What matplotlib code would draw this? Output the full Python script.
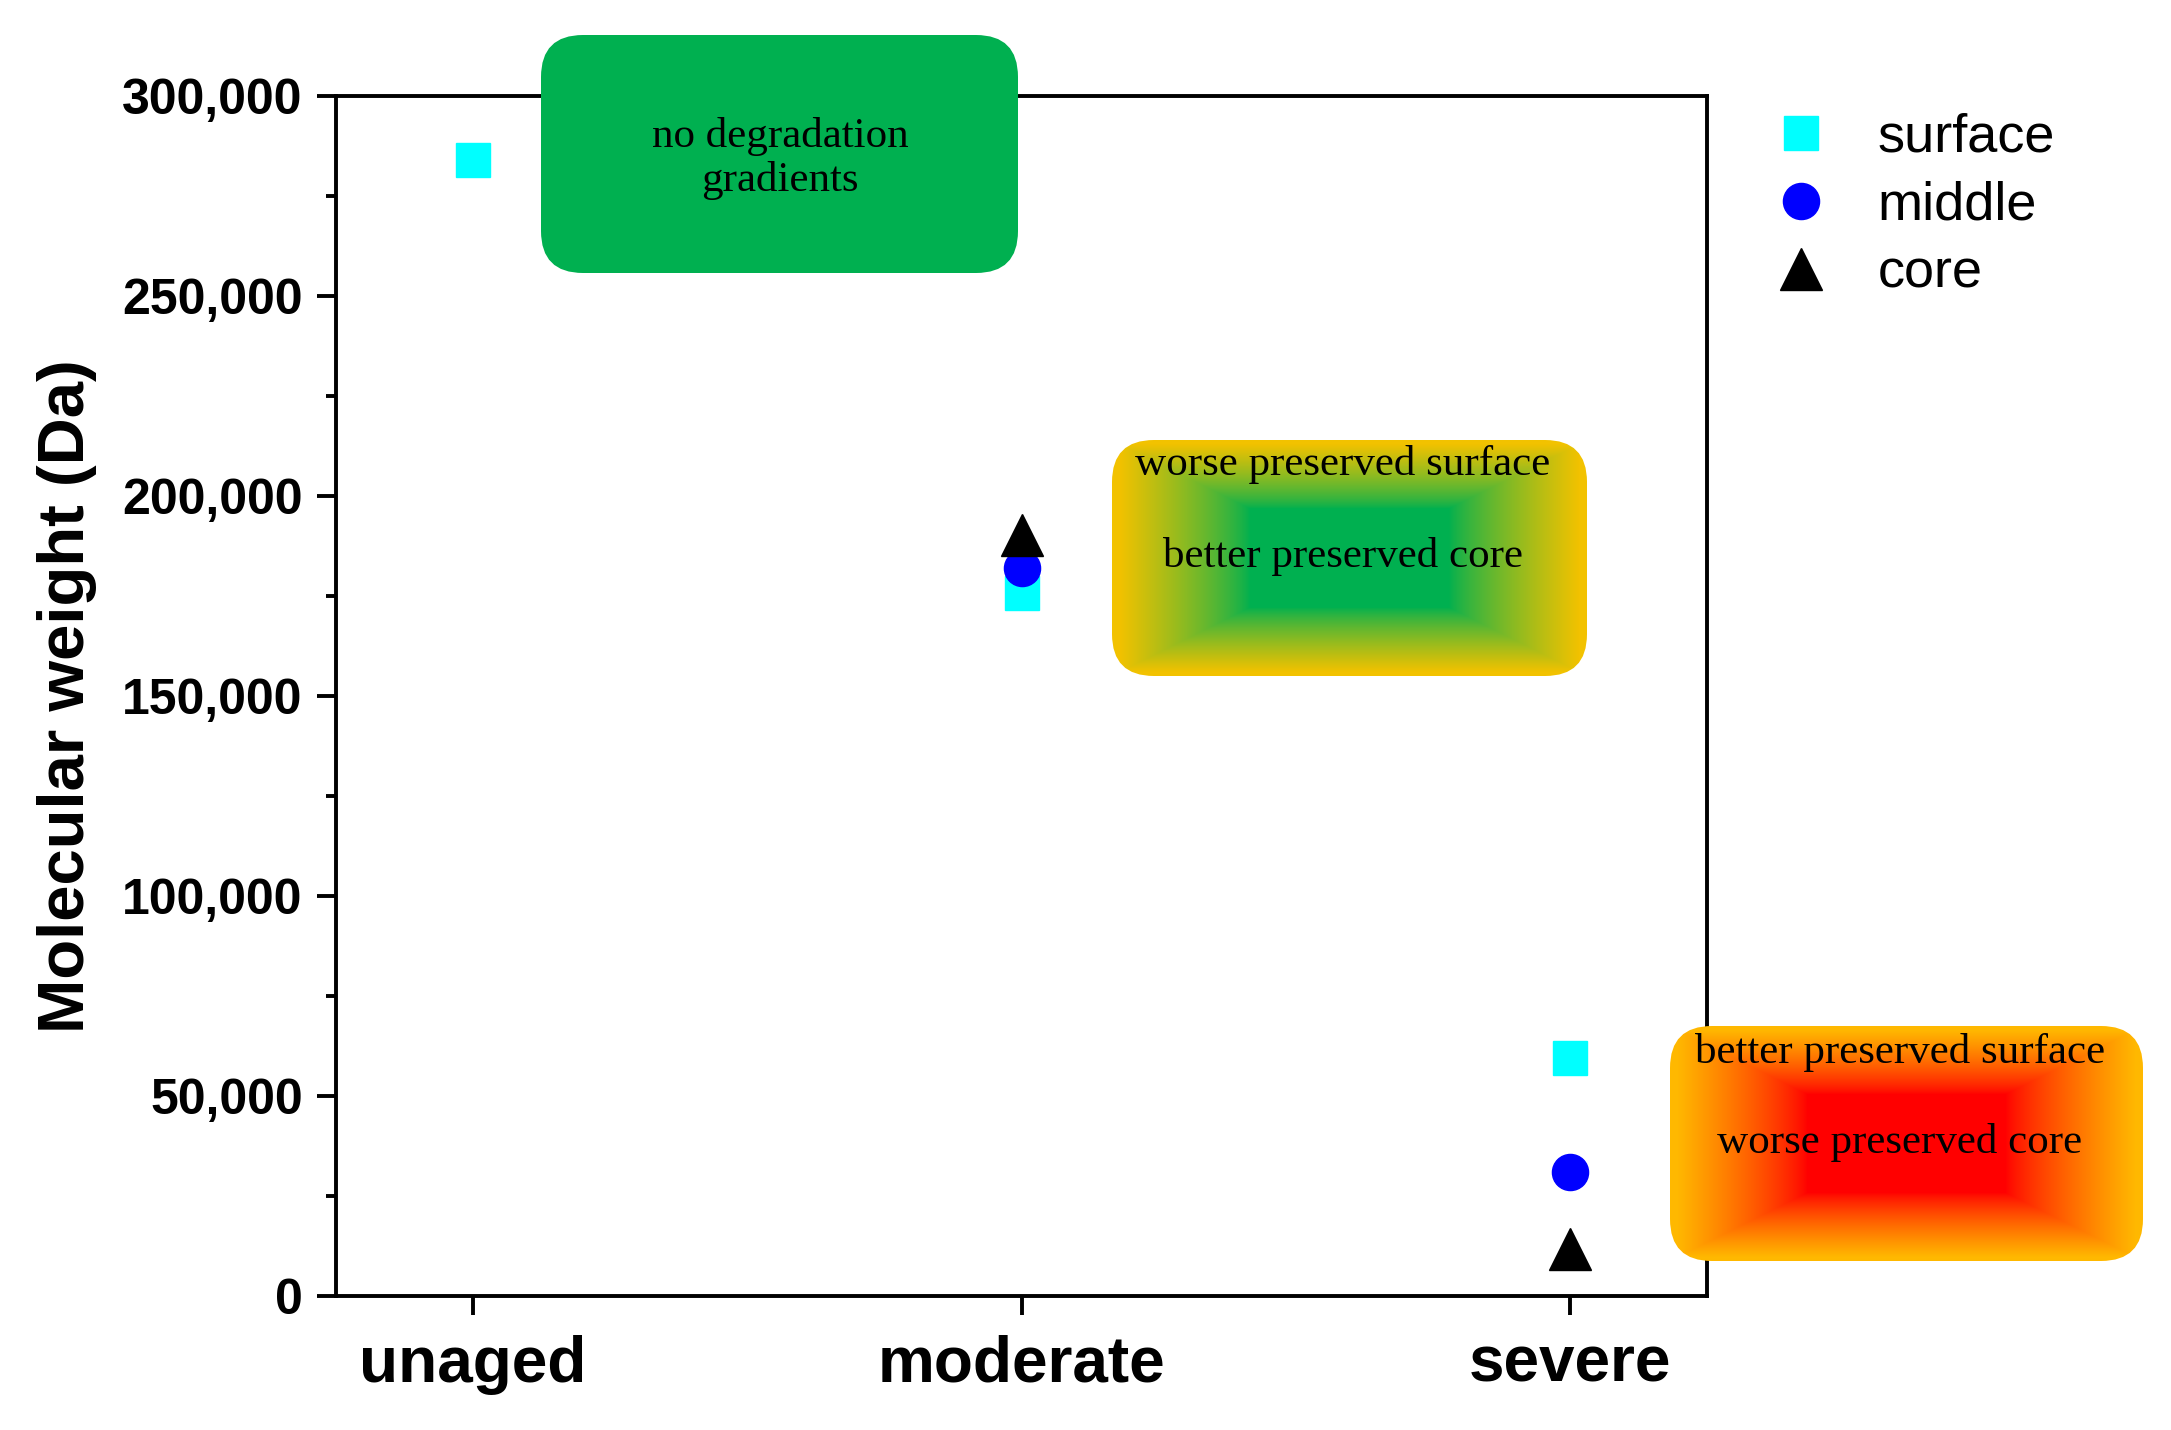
import numpy as np
import matplotlib
matplotlib.use("Agg")
import matplotlib.pyplot as plt
from matplotlib.patches import FancyBboxPatch
from matplotlib.ticker import MultipleLocator, StrMethodFormatter

# valores
categorias = ["unaged", "moderate", "severe"]
surface = [284000, 175800, 59500]
middle = [np.nan, 182000, 31100]
core = [np.nan, 190300, 11800]

plt.rcParams['font.family'] = ['Liberation Sans', 'DejaVu Sans']

fig = plt.figure(figsize=(21.71, 14.3), dpi=100)
ax = fig.add_axes([0.1548, 0.0937, 0.6315, 0.8395])

x = np.arange(len(categorias))
ax.plot(x, surface, linestyle='none', marker='s', markersize=24, color='#00ffff', label='surface')
ax.plot(x, middle, linestyle='none', marker='o', markersize=26, color='#0000ff', label='middle')
ax.plot(x, core, linestyle='none', marker='^', markersize=30, color='black', label='core')

ax.set_xlim(-0.25, 2.25)
ax.set_ylim(0, 300000)
ax.set_xticks(x)
ax.set_xticklabels(categorias, fontsize=46, fontweight='bold')
ax.yaxis.set_major_locator(MultipleLocator(50000))
ax.yaxis.set_minor_locator(MultipleLocator(25000))
ax.yaxis.set_major_formatter(StrMethodFormatter('{x:,.0f}'))
for lab in ax.get_yticklabels():
    lab.set_fontsize(36)
    lab.set_fontweight('bold')
ax.tick_params(axis='y', which='major', length=14, width=2.8, pad=10, direction='out')
ax.tick_params(axis='y', which='minor', length=7, width=2.8, direction='out')
ax.tick_params(axis='x', which='major', length=14, width=2.8, pad=14, direction='out')
for s in ax.spines.values():
    s.set_linewidth(2.8)
ax.set_ylabel('Molecular weight (Da)', fontsize=47, fontweight='bold', labelpad=18)

# legenda fora do gráfico
handles, labels = ax.get_legend_handles_labels()
fig.legend(handles, labels, loc='upper left', bbox_to_anchor=(0.8173, 0.921),
           frameon=False, fontsize=39, handlelength=1.0, handletextpad=0.9,
           labelspacing=0.33, borderpad=0, borderaxespad=0, numpoints=1)

# camada de anotações em pixels
ov = fig.add_axes([0, 0, 1, 1])
ov.set_axis_off()


def caixa_gradiente(x0, y0, w, h, c_in, c_out, r=42):
    nx, ny = int(w), int(h)
    u = np.abs(np.linspace(-1, 1, nx))
    v = np.abs(np.linspace(-1, 1, ny))
    t = np.maximum(u[None, :], v[:, None])
    t = np.clip((t - 0.42) / 0.55, 0, 1) ** 0.8
    c_in = np.array(matplotlib.colors.to_rgb(c_in))
    c_out = np.array(matplotlib.colors.to_rgb(c_out))
    img = (1 - t)[..., None] * c_in + t[..., None] * c_out
    patch = FancyBboxPatch((x0, y0), w, h, boxstyle=f"round,pad=0,rounding_size={r}",
                           facecolor='none', edgecolor='none')
    ov.add_patch(patch)
    im = ov.imshow(img, extent=(x0, x0 + w, y0 + h, y0), aspect='auto', zorder=1)
    im.set_clip_path(patch)


# caixa verde
ov.add_patch(FancyBboxPatch((541, 35), 477, 238, boxstyle="round,pad=0,rounding_size=42",
                            facecolor='#00b050', edgecolor='none'))
caixa_gradiente(1112, 440, 475, 236, '#00b050', '#f2c200')
caixa_gradiente(1670, 1026, 473, 235, '#ff0000', '#ffb800')

fonte = dict(fontsize=31, family=['Liberation Serif', 'DejaVu Serif'], ha='center', va='center', zorder=3)
ov.text(780, 136, 'no degradation', **fonte)
ov.text(780, 181, 'gradients', **fonte)
ov.text(1343, 464, 'worse preserved surface', **fonte)
ov.text(1343, 557, 'better preserved core', **fonte)
ov.text(1900, 1052, 'better preserved surface', **fonte)
ov.text(1900, 1142, 'worse preserved core', **fonte)

ov.set_xlim(0, 2171)
ov.set_ylim(1430, 0)

fig.savefig('out.png', dpi=100)
